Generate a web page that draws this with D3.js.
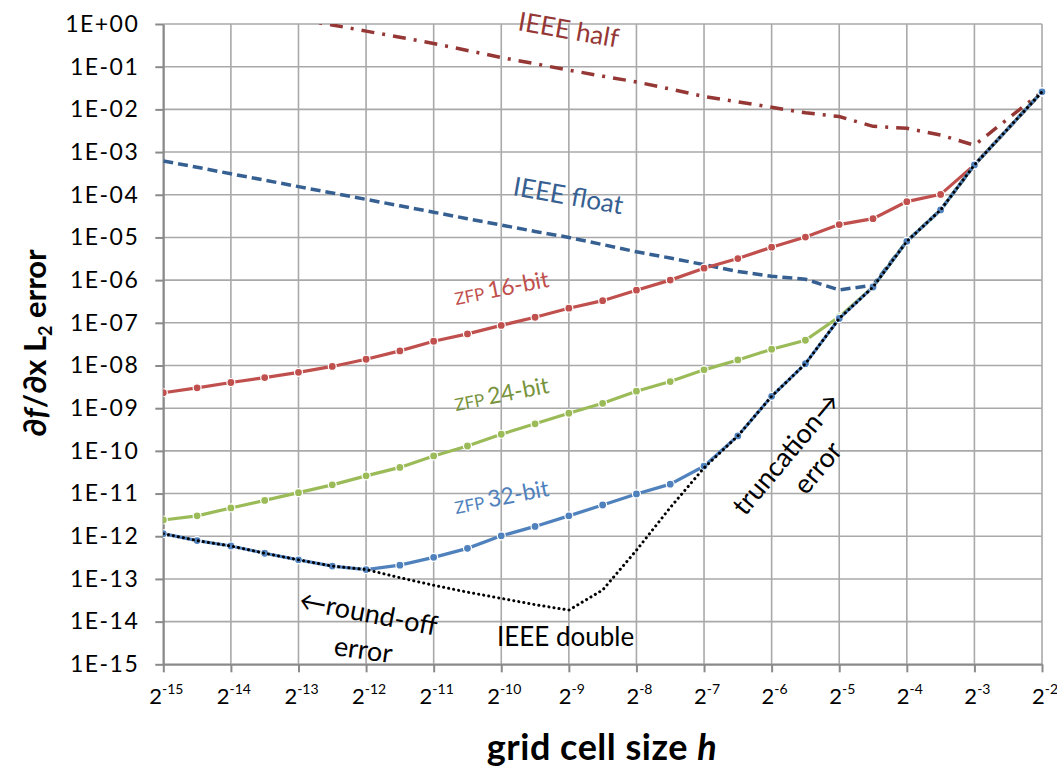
<!DOCTYPE html>
<html>
<head>
<meta charset="utf-8">
<script src="https://cdn.jsdelivr.net/npm/d3@7"></script>
<style>
  html, body { margin: 0; padding: 0; background: #fff; }
  svg text { font-family: Lato, "Open Sans", "DejaVu Sans", sans-serif; }
</style>
</head>
<body>
<svg id="chart" width="1057" height="770"></svg>
<script>
// ---------- data ----------
const xTickExps = [-15,-14,-13,-12,-11,-10,-9,-8,-7,-6,-5,-4,-3,-2];
const yTickExps = [0,-1,-2,-3,-4,-5,-6,-7,-8,-9,-10,-11,-12,-13,-14,-15];

const exps = [-15,-14.5,-14,-13.5,-13,-12.5,-12,-11.5,-11,-10.5,-10,-9.5,-9,-8.5,-8,-7.5,-7,-6.5,-6,-5.5,-5,-4.5,-4,-3.5,-3,-2];

const zfp16 = [2.3e-9,3.0e-9,4.0e-9,5.2e-9,6.9e-9,9.5e-9,1.4e-8,2.2e-8,3.7e-8,5.5e-8,8.7e-8,1.35e-7,2.2e-7,3.3e-7,5.8e-7,1.0e-6,1.9e-6,3.2e-6,5.9e-6,1.02e-5,2.0e-5,2.75e-5,6.9e-5,1.02e-4,5.0e-4,2.57e-2];
const zfp24 = [2.4e-12,3.0e-12,4.6e-12,6.9e-12,1.05e-11,1.6e-11,2.6e-11,4.1e-11,7.6e-11,1.3e-10,2.45e-10,4.3e-10,7.6e-10,1.3e-9,2.5e-9,4.2e-9,7.9e-9,1.35e-8,2.4e-8,3.9e-8,1.38e-7,6.9e-7,8.1e-6,4.4e-5,5.0e-4,2.57e-2];
const zfp32 = [1.15e-12,7.9e-13,5.9e-13,4.0e-13,2.8e-13,2.0e-13,1.66e-13,2.1e-13,3.2e-13,5.2e-13,1.02e-12,1.7e-12,3.0e-12,5.4e-12,9.8e-12,1.66e-11,4.4e-11,2.24e-10,1.9e-9,1.1e-8,1.26e-7,6.9e-7,8.1e-6,4.4e-5,5.0e-4,2.57e-2];
const ieeeDouble = [1.15e-12,7.9e-13,5.9e-13,4.0e-13,2.8e-13,2.0e-13,1.66e-13,1.07e-13,7.1e-14,4.9e-14,3.5e-14,2.5e-14,1.86e-14,5.5e-14,4.7e-13,4.7e-12,4.0e-11,2.24e-10,1.9e-9,1.1e-8,1.26e-7,6.9e-7,8.1e-6,4.4e-5,5.0e-4,2.57e-2];
const ieeeFloat = [6.2e-4,4.4e-4,3.1e-4,2.2e-4,1.55e-4,1.1e-4,7.8e-5,5.5e-5,3.9e-5,2.75e-5,1.95e-5,1.38e-5,1.0e-5,6.8e-6,4.6e-6,3.3e-6,2.3e-6,1.6e-6,1.23e-6,1.05e-6,5.9e-7,7.6e-7,8.1e-6,4.4e-5,5.0e-4,2.57e-2];

const halfExps = [-13,-12.5,-12,-11.5,-11,-10.5,-10,-9.5,-9,-8.5,-8,-7.5,-7,-6.5,-6,-5.5,-5,-4.5,-4,-3.5,-3,-2];
const ieeeHalf = [1.3,0.95,0.68,0.49,0.35,0.24,0.164,0.117,0.083,0.060,0.044,0.030,0.020,0.015,0.0112,0.0083,0.0068,0.0040,0.0036,0.0025,0.00145,0.0257];

// ---------- layout ----------
const svg = d3.select("#chart");
const X0 = 163.3, X1 = 1042, Y0 = 664.3, Y1 = 24;
const x = d3.scaleLog().base(2).domain([Math.pow(2,-15), Math.pow(2,-2)]).range([X0, X1]);
const y = d3.scaleLog().domain([1e-15, 1]).range([Y0, Y1]);

const gridColor = "#a9a9a9";
const axisColor = "#8a8a8a";

// grid
const grid = svg.append("g");
grid.selectAll("line.v").data(xTickExps).enter().append("line")
  .attr("x1", d => x(Math.pow(2,d))).attr("x2", d => x(Math.pow(2,d)))
  .attr("y1", Y1).attr("y2", Y0)
  .attr("stroke", gridColor).attr("stroke-width", 1.6);
grid.selectAll("line.h").data(yTickExps).enter().append("line")
  .attr("x1", X0).attr("x2", X1)
  .attr("y1", d => y(Math.pow(10,d))).attr("y2", d => y(Math.pow(10,d)))
  .attr("stroke", gridColor).attr("stroke-width", 1.6);

// axes
const fmtY = d => {
  const e = Math.round(Math.log10(d));
  const s = e >= 0 ? "+" : "-";
  const a = Math.abs(e);
  return "1E" + s + (a < 10 ? "0" + a : "" + a);
};
const yAxis = d3.axisLeft(y).tickValues(yTickExps.map(e => Math.pow(10,e))).tickFormat(fmtY).tickSizeInner(8).tickSizeOuter(0).tickPadding(16);
const gy = svg.append("g").attr("transform", `translate(${X0},0)`).call(yAxis);
gy.select(".domain").attr("stroke", axisColor).attr("stroke-width", 2);
gy.selectAll(".tick line").attr("stroke", axisColor).attr("stroke-width", 2);
gy.selectAll(".tick text").attr("font-size", 23).attr("fill", "#000")
  .attr("letter-spacing", 1.5)
  .attr("font-family", "Lato, 'Open Sans', sans-serif");

const xAxis = d3.axisBottom(x).tickValues(xTickExps.map(e => Math.pow(2,e))).tickFormat("").tickSizeInner(8).tickSizeOuter(0);
const gx = svg.append("g").attr("transform", `translate(0,${Y0})`).call(xAxis);
gx.select(".domain").attr("stroke", axisColor).attr("stroke-width", 2);
gx.selectAll(".tick line").attr("stroke", axisColor).attr("stroke-width", 2);

// x tick labels 2^k
const xl = svg.append("g").selectAll("text").data(xTickExps).enter().append("text")
  .attr("x", d => x(Math.pow(2,d)) + 3).attr("y", 704)
  .attr("text-anchor", "middle").attr("font-size", 22).attr("fill", "#000");
xl.append("tspan").text("2");
xl.append("tspan").attr("font-size", 14).attr("dy", -10).text(d => "" + d);

// clip
svg.append("clipPath").attr("id", "plotclip").append("rect")
  .attr("x", X0).attr("y", Y1).attr("width", X1 - X0 + 6).attr("height", Y0 - Y1);
const plot = svg.append("g").attr("clip-path", "url(#plotclip)");

const line = d3.line().x(d => x(Math.pow(2, d[0]))).y(d => y(d[1]));
const pairs = (xs, vs) => xs.map((e, i) => [e, vs[i]]);

// IEEE half
plot.append("path").datum(pairs(halfExps, ieeeHalf)).attr("d", line)
  .attr("fill", "none").attr("stroke", "#953735").attr("stroke-width", 3.5)
  .attr("stroke-dasharray", "13,8,3,8");
// IEEE float
plot.append("path").datum(pairs(exps, ieeeFloat)).attr("d", line)
  .attr("fill", "none").attr("stroke", "#376092").attr("stroke-width", 3.5)
  .attr("stroke-dasharray", "10,5");

function zfp(vals, color) {
  const d = pairs(exps, vals);
  plot.append("path").datum(d).attr("d", line)
    .attr("fill", "none").attr("stroke", color).attr("stroke-width", 3.2);
  plot.append("g").selectAll("circle").data(d).enter().append("circle")
    .attr("cx", p => x(Math.pow(2, p[0]))).attr("cy", p => y(p[1]))
    .attr("r", 4).attr("fill", color).attr("stroke", "#fff").attr("stroke-width", 1.2);
}
zfp(zfp16, "#C0504D");
zfp(zfp24, "#9BBB59");
zfp(zfp32, "#4F81BD");

// IEEE double
plot.append("path").datum(pairs(exps, ieeeDouble)).attr("d", line)
  .attr("fill", "none").attr("stroke", "#000").attr("stroke-width", 3)
  .attr("stroke-linecap", "round").attr("stroke-dasharray", "0.1,5");

// ---------- annotations ----------
const ann = svg.append("g");
function label(tx, ty, rot, parts, color, anchor) {
  const t = ann.append("text").attr("transform", `translate(${tx},${ty}) rotate(${rot})`)
    .attr("fill", color).attr("text-anchor", anchor || "start");
  parts.forEach(p => {
    const s = t.append("tspan").attr("font-size", p.size).text(p.text);
    if (p.style) s.attr("font-style", p.style);
  });
  return t;
}
label(517, 30, 10, [{text: "IEEE half", size: 26}], "#953735");
label(512, 195, 10, [{text: "IEEE float", size: 26}], "#376092");
label(456, 305, -11, [{text: "ZFP ", size: 17}, {text: "16-bit", size: 23}], "#C0504D");
label(456, 411, -11, [{text: "ZFP ", size: 17}, {text: "24-bit", size: 23}], "#77933C");
label(456, 514, -11, [{text: "ZFP ", size: 17}, {text: "32-bit", size: 23}], "#4F81BD");
label(298, 609, 11, [{text: "\u2190round-off", size: 27}], "#000");
label(333, 655, 8, [{text: "error", size: 27}], "#000");
label(497, 646, 0, [{text: "IEEE double", size: 26}], "#000");
label(745, 517, -50, [{text: "truncation\u2192", size: 27}], "#000");
label(806, 496, -50, [{text: "error", size: 27}], "#000");

// axis titles
const yt = svg.append("text").attr("transform", "translate(46,343) rotate(-90)")
  .attr("text-anchor", "middle").attr("font-size", 31).attr("font-weight", "bold").attr("fill", "#000")
  .attr("font-family", "'Open Sans', Lato, sans-serif");
yt.append("tspan").text("\u2202");
yt.append("tspan").attr("font-style", "italic").text("f");
yt.append("tspan").text("/\u2202x L");
yt.append("tspan").attr("font-size", 18).attr("dy", 6).text("2");
yt.append("tspan").attr("dy", -6).text(" error");

const xt = svg.append("text").attr("x", 602).attr("y", 760)
  .attr("text-anchor", "middle").attr("font-size", 36).attr("font-weight", "bold").attr("fill", "#000")
  .attr("letter-spacing", 0.5)
  .attr("font-family", "'Open Sans', Lato, sans-serif");
xt.append("tspan").text("grid cell size ");
xt.append("tspan").attr("font-style", "italic").text("h");
</script>
</body>
</html>
